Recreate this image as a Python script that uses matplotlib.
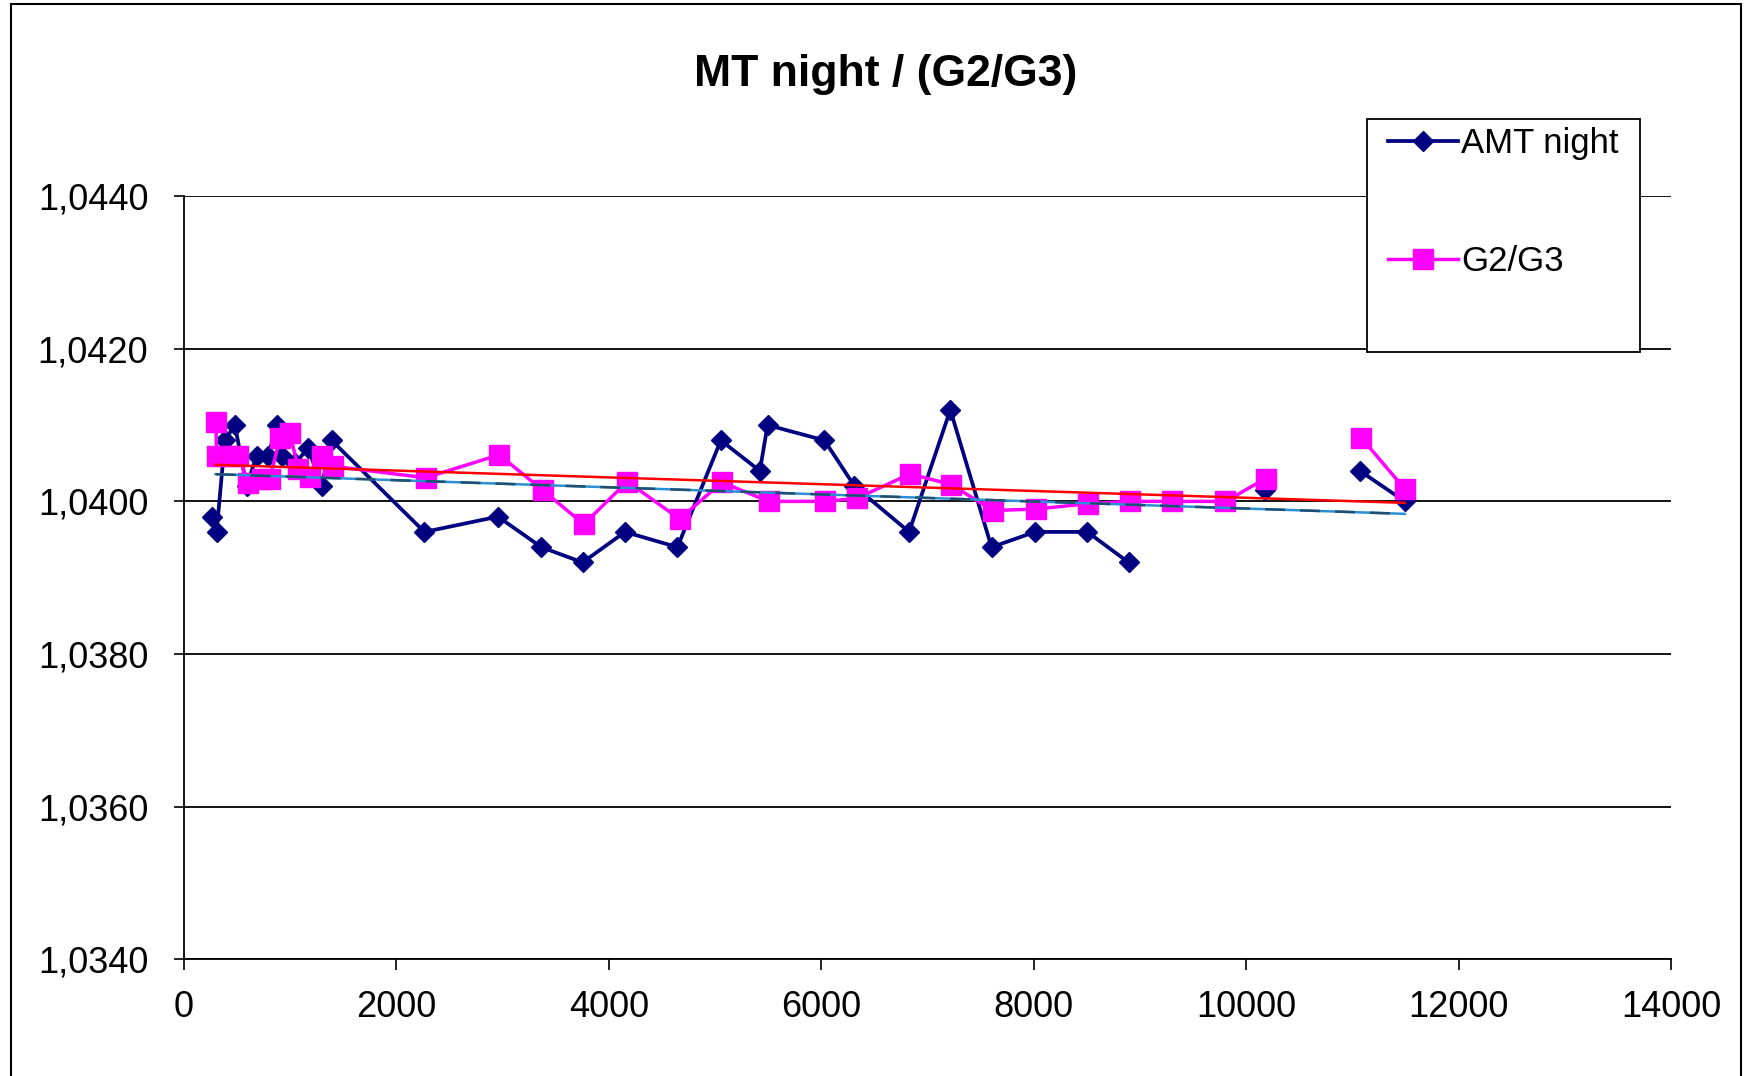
import numpy as np
import matplotlib
matplotlib.use("Agg")
from matplotlib import pyplot as plt
from matplotlib.patches import Rectangle
from matplotlib.lines import Line2D
from matplotlib.ticker import FuncFormatter

plt.rcParams['font.family'] = ['Liberation Sans', 'DejaVu Sans']

# AMT night series (nan = gap in the line)
amt_x = [262, 309, 387, 481, 591, 686, 795, 874, 927, 1050, 1171, 1297, 1391,
         2265, 2957, 3366, 3754, 4153, 4646, 5055, 5422, 5495, 6030, 6313,
         6827, 7215, 7603, 8012, 8505, 8893, np.nan, 10175, np.nan, 11070, 11493]
amt_y = [1.0398, 1.0396, 1.0408, 1.0410, 1.0402, 1.0406, 1.0406, 1.0410, 1.0406, 1.0405,
         1.0407, 1.0402, 1.0408,
         1.0396, 1.0398, 1.0394, 1.0392, 1.0396, 1.0394, 1.0408, 1.0404, 1.0410, 1.0408, 1.0402,
         1.0396, 1.0412, 1.0394, 1.0396, 1.0396, 1.0392, np.nan, 1.04015, np.nan, 1.0404, 1.0400]

# G2/G3 series
g_x = [302, 309, 418, 513, 607, 735, 811, 905, 999, 1078, 1188, 1297, 1407,
       2276, 2968, 3377, 3765, 4174, 4667, 5065, 5505, 6040, 6334, 6837, 7225,
       7613, 8022, 8515, 8903, 9301, 9805, 10183, np.nan, 11085, 11494]
g_y = [1.04104, 1.0406, 1.0406, 1.0406, 1.04024, 1.0403, 1.0403, 1.04083, 1.04089, 1.04043,
       1.04032, 1.04059, 1.04046,
       1.04031, 1.04061, 1.04015, 1.0397, 1.04026, 1.03977, 1.04025, 1.0400, 1.0400, 1.04004,
       1.04036, 1.04022, 1.03988, 1.0399, 1.03997, 1.0400, 1.0400, 1.0400, 1.0403, np.nan,
       1.04083, 1.04016]

title = "MT night / (G2/G3)"
labels = ["AMT night", "G2/G3"]
xticks = [0, 2000, 4000, 6000, 8000, 10000, 12000, 14000]
yticks = [1.034, 1.036, 1.038, 1.040, 1.042, 1.044]

fig = plt.figure(figsize=(17.47, 10.76), dpi=100)
ax = fig.add_axes([0.1052, 0.1085, 0.9566 - 0.1052, 0.8177 - 0.1085])

ax.set_xlim(0, 14000)
ax.set_ylim(1.034, 1.044)
ax.set_xticks(xticks)
ax.set_yticks(yticks)
ax.yaxis.set_major_formatter(FuncFormatter(lambda v, p: ("%.4f" % v).replace(".", ",")))
ax.grid(axis='y', color='black', lw=1.3)
ax.set_axisbelow(True)
for s in ['top', 'right']:
    ax.spines[s].set_visible(False)
for s in ['left', 'bottom']:
    ax.spines[s].set_linewidth(1.3)
ax.tick_params(axis='y', length=7.5, width=1.2, pad=18, labelsize=26)
ax.tick_params(axis='x', length=8, width=1.2, pad=14, labelsize=26)

ax.plot(amt_x, amt_y, color='#000080', lw=2.7, marker='D', ms=10.5, zorder=3)
ax.plot(g_x, g_y, color='#FF00FF', lw=2.5, marker='s', ms=14.5, zorder=3)

# linear trendlines
ax_ = np.array(amt_x); ay_ = np.array(amt_y)
m = ~np.isnan(ax_)
p = np.polyfit(ax_[m], ay_[m], 1)
tx = np.array([300, ax_[m].max()])
ax.plot(tx, np.polyval(p, tx), color='#2b8fd6', lw=1.8, zorder=4)
ax.plot(tx, np.polyval(p, tx), color='#1f4e6e', lw=1.8, ls=(0, (8, 6)), zorder=4)

gx_ = np.array(g_x); gy_ = np.array(g_y)
m = ~np.isnan(gx_)
p = np.polyfit(gx_[m], gy_[m], 1)
tx = np.array([300, gx_[m].max()])
ax.plot(tx, np.polyval(p, tx), color='#FF0000', lw=1.8, zorder=4)

fig.text(0.507, 0.931, title, ha='center', va='center', fontsize=32, fontweight='bold')

# legend box
fig.patches.append(Rectangle((1367 / 1747, 1 - 352 / 1076), (1640 - 1367) / 1747, (352 - 119) / 1076,
                             transform=fig.transFigure, facecolor='white', edgecolor='black',
                             lw=1.3, zorder=5))
handles = [Line2D([], [], color='#000080', lw=2.7, marker='D', ms=10.5),
           Line2D([], [], color='#FF00FF', lw=2.5, marker='s', ms=14.5)]
leg = fig.legend(handles, labels, loc='upper left', bbox_to_anchor=(1357 / 1747, 1 - 96 / 1076),
                 frameon=False, fontsize=25, labelspacing=2.45, handlelength=2.0, handletextpad=0.1)
leg.set_zorder(6)

# chart area border
fig.patches.append(Rectangle((11 / 1747, -0.05), (1741 - 11) / 1747, 1.05 - 4 / 1076,
                             transform=fig.transFigure, fill=False, edgecolor='black', lw=1.5))

fig.savefig("out.png", dpi=100)
